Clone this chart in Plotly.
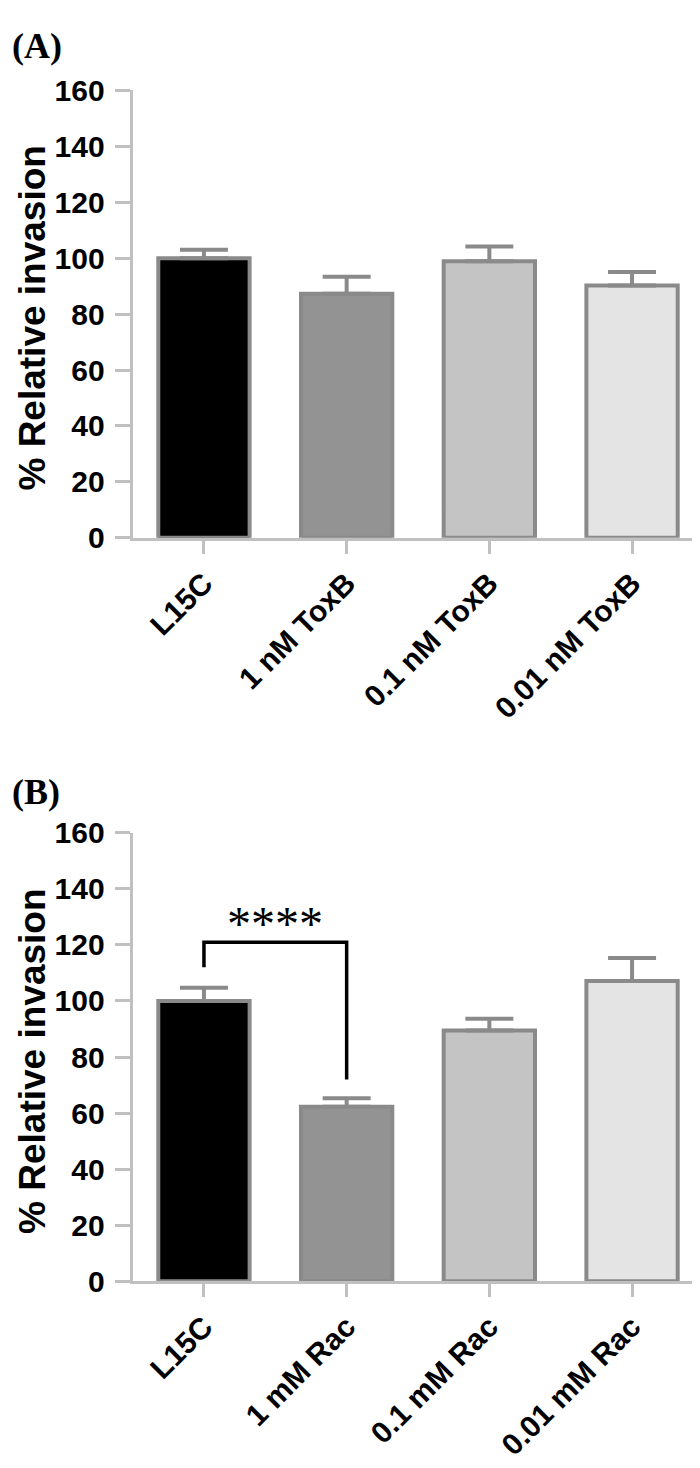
import plotly.graph_objects as go

# ---------------- data ----------------
cats_a = ["L15C", "1 nM ToxB", "0.1 nM ToxB", "0.01 nM ToxB"]
vals_a = [100.0, 87.3, 98.9, 90.2]
err_a = [3.0, 6.1, 5.3, 4.9]

cats_b = ["L15C", "1 mM Rac", "0.1 mM Rac", "0.01 mM Rac"]
vals_b = [100.0, 62.3, 89.5, 107.1]
err_b = [4.7, 3.0, 4.2, 8.2]

bar_colors = ["#000000", "#939393", "#c4c4c4", "#e4e4e4"]

y_ticks = [0, 20, 40, 60, 80, 100, 120, 140, 160]

# significance bracket in panel B (between L15C and 1 mM Rac)
bracket_cats = [cats_b[0], cats_b[0], cats_b[1], cats_b[1]]
bracket_vals = [112, 121, 121, 72]
sig_label = "****"
sig_val = 127.5

# ---------------- figure ----------------
W, H = 700, 1468
def py(px):
    return 1 - px / H

border = "#8a8a8a"
axis_col = "#c0c0c0"
font_fam = "Liberation Sans"

fig = go.Figure()

for cats, vals, errs, xa, ya in [(cats_a, vals_a, err_a, "x", "y"),
                                 (cats_b, vals_b, err_b, "x2", "y2")]:
    fig.add_trace(go.Bar(
        x=cats, y=vals, xaxis=xa, yaxis=ya, width=0.64,
        marker=dict(color=bar_colors, line=dict(color=border, width=4)),
        error_y=dict(type="data", symmetric=False, array=errs,
                     arrayminus=[0] * len(errs), color=border,
                     thickness=4, width=24),
        showlegend=False, hoverinfo="skip"))

fig.add_trace(go.Scatter(
    x=bracket_cats, y=bracket_vals, xaxis="x2", yaxis="y2", mode="lines",
    line=dict(color="#000000", width=3.5), showlegend=False, hoverinfo="skip"))

xdom = [124.6 / W, 695.4 / W]
ydom_a = [py(525), py(67)]
ydom_b = [py(1286), py(827)]

xcommon = dict(type="category", range=[-0.5, 3.5], showline=True, linecolor=axis_col,
               linewidth=3, ticks="outside", ticklen=13, tickwidth=3, tickcolor=axis_col,
               tickangle=-45, showgrid=False, zeroline=False,
               tickfont=dict(family=font_fam, size=30, color="#000000", weight="bold"))
ycommon = dict(range=[0, 160], tickvals=y_ticks, showline=True, linecolor=axis_col,
               linewidth=3, ticks="outside", ticklen=15, tickwidth=3, tickcolor=axis_col,
               showgrid=False, zeroline=False, ticklabelstandoff=4,
               tickfont=dict(family=font_fam, size=30, color="#000000", weight="bold"))

fig.update_layout(
    width=W, height=H,
    margin=dict(l=0, r=0, t=0, b=0),
    paper_bgcolor="white", plot_bgcolor="white",
    bargap=0.36,
    xaxis=dict(domain=xdom, anchor="y", **xcommon),
    yaxis=dict(domain=ydom_a, anchor="x", **ycommon),
    xaxis2=dict(domain=xdom, anchor="y2", **xcommon),
    yaxis2=dict(domain=ydom_b, anchor="x2", **ycommon),
)

annots = [
    dict(text="(A)", x=2 / W, y=py(22), xref="paper", yref="paper", xanchor="left",
         yanchor="middle", showarrow=False,
         font=dict(family="Liberation Serif", size=36, color="#000000", weight="bold")),
    dict(text="(B)", x=2 / W, y=py(785), xref="paper", yref="paper", xanchor="left",
         yanchor="middle", showarrow=False,
         font=dict(family="Liberation Serif", size=36, color="#000000", weight="bold")),
    dict(text="% Relative invasion", x=2 / W, y=py(300), xref="paper", yref="paper",
         xanchor="left", yanchor="middle", textangle=-90, showarrow=False,
         font=dict(family=font_fam, size=37, color="#000000", weight="bold")),
    dict(text="% Relative invasion", x=2 / W, y=py(1061), xref="paper", yref="paper",
         xanchor="left", yanchor="middle", textangle=-90, showarrow=False,
         font=dict(family=font_fam, size=37, color="#000000", weight="bold")),
    dict(text=sig_label, x=0.5, y=sig_val, xref="x2", yref="y2", xanchor="center",
         yanchor="middle", showarrow=False,
         font=dict(family="Liberation Serif", size=48, color="#000000")),
]
fig.update_layout(annotations=annots)

fig.write_html("out.html")
